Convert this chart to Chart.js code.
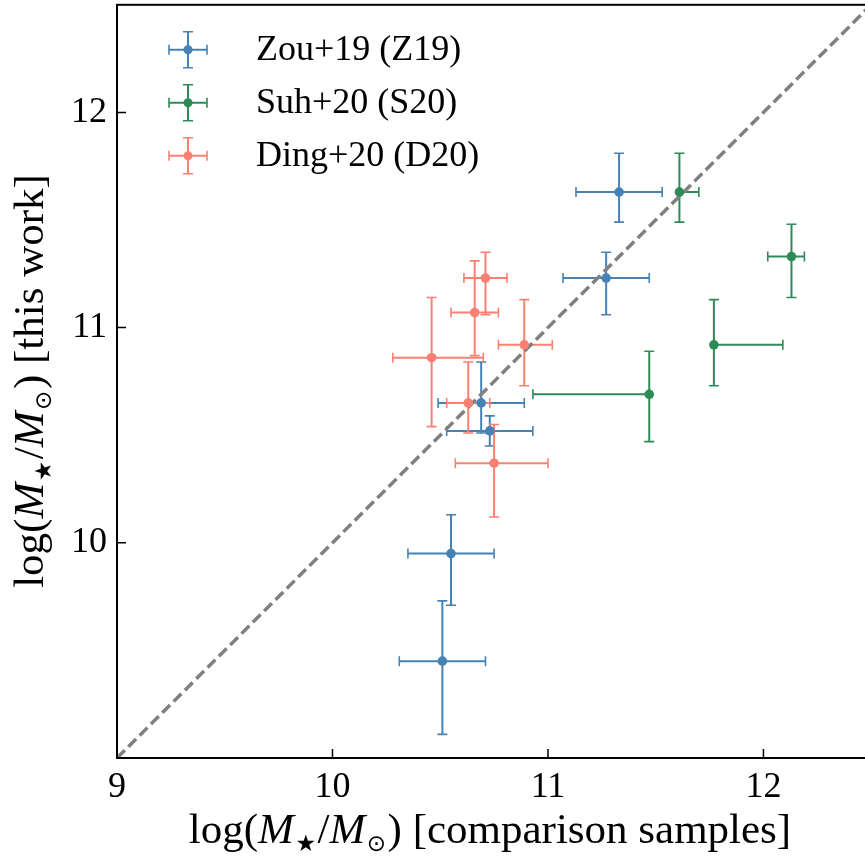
<!DOCTYPE html>
<html>
<head>
<meta charset="utf-8">
<script src="https://cdn.jsdelivr.net/npm/chart.js@4.4.1/dist/chart.umd.min.js"></script>
<style>
  body { margin: 0; background: #fff; }
  #wrap { width: 865px; height: 860px; overflow: hidden; }
</style>
</head>
<body>
<div id="wrap"><canvas id="c" width="876" height="860"></canvas></div>
<script>
// tick labels
const xTicks = [9, 10, 11, 12];
const yTicks = [10, 11, 12];

// Zou+19 (Z19)
const z19X = [10.55, 10.51, 11.33, 11.27, 10.69, 10.73];
const z19XLo = [0.20, 0.20, 0.20, 0.20, 0.20, 0.20];
const z19XHi = [0.20, 0.20, 0.20, 0.20, 0.20, 0.20];
const z19Y = [9.95, 9.45, 11.63, 11.23, 10.65, 10.52];
const z19YLo = [0.24, 0.34, 0.14, 0.17, 0.14, 0.07];
const z19YHi = [0.18, 0.28, 0.18, 0.12, 0.19, 0.07];

// Suh+20 (S20)
const s20X = [11.61, 12.13, 11.77, 11.47];
const s20XLo = [0, 0.11, 0, 0.54];
const s20XHi = [0.09, 0.06, 0.32, 0];
const s20Y = [11.63, 11.33, 10.92, 10.69];
const s20YLo = [0.14, 0.19, 0.19, 0.22];
const s20YHi = [0.18, 0.15, 0.21, 0.20];

// Ding+20 (D20)
const d20X = [10.71, 10.66, 10.46, 10.89, 10.63, 10.75];
const d20XLo = [0.10, 0.11, 0.18, 0.12, 0.10, 0.18];
const d20XHi = [0.10, 0.11, 0.24, 0.13, 0.10, 0.25];
const d20Y = [11.23, 11.07, 10.86, 10.92, 10.65, 10.37];
const d20YLo = [0.17, 0.20, 0.32, 0.19, 0.14, 0.25];
const d20YHi = [0.12, 0.24, 0.28, 0.21, 0.19, 0.18];

// one-to-one line
const lineX = [9, 12.5];

const series = [
  { label: 'Zou+19 (Z19)', color: '#4682b4', x: z19X, xlo: z19XLo, xhi: z19XHi, y: z19Y, ylo: z19YLo, yhi: z19YHi },
  { label: 'Suh+20 (S20)', color: '#2e8b57', x: s20X, xlo: s20XLo, xhi: s20XHi, y: s20Y, ylo: s20YLo, yhi: s20YHi },
  { label: 'Ding+20 (D20)', color: '#fa8072', x: d20X, xlo: d20XLo, xhi: d20XHi, y: d20Y, ylo: d20YLo, yhi: d20YHi }
];

const serif = '"Liberation Serif", "Times New Roman", serif';

function drawErr(ctx, xs, ys, s, i, color) {
  let px = xs.getPixelForValue(s.x[i]);
  let py = ys.getPixelForValue(s.y[i]);
  let x0 = xs.getPixelForValue(s.x[i] - s.xlo[i]);
  let x1 = xs.getPixelForValue(s.x[i] + s.xhi[i]);
  let y0 = ys.getPixelForValue(s.y[i] - s.ylo[i]);
  let y1 = ys.getPixelForValue(s.y[i] + s.yhi[i]);
  ctx.strokeStyle = color;
  ctx.lineWidth = 2;
  ctx.beginPath();
  ctx.moveTo(x0, py); ctx.lineTo(x1, py);
  ctx.moveTo(px, y0); ctx.lineTo(px, y1);
  ctx.stroke();
  ctx.lineWidth = 1.6;
  ctx.beginPath();
  ctx.moveTo(x0, py - 5); ctx.lineTo(x0, py + 5);
  ctx.moveTo(x1, py - 5); ctx.lineTo(x1, py + 5);
  ctx.moveTo(px - 5, y0); ctx.lineTo(px + 5, y0);
  ctx.moveTo(px - 5, y1); ctx.lineTo(px + 5, y1);
  ctx.stroke();
}

// text made of pieces with different fonts (for M_star / M_sun)
function pieces(ctx, parts, cx, y) {
  let w = 0;
  parts.forEach(p => { ctx.font = p.f; p.w = ctx.measureText(p.t).width + (p.gap || 0); w += p.w; });
  let x = cx - w / 2;
  ctx.textAlign = 'left';
  ctx.textBaseline = 'alphabetic';
  parts.forEach(p => { ctx.font = p.f; ctx.fillText(p.t, x + (p.gap || 0) / 2, y + (p.dy || 0)); x += p.w; });
}

function massLabel(tail) {
  let rm = '43px ' + serif, it = 'italic 43px ' + serif, sub = '23px "DejaVu Sans"';
  return [
    { t: 'log(', f: rm },
    { t: 'M', f: it },
    { t: '\u2605', f: sub, dy: 8, gap: 3 },
    { t: '/', f: rm },
    { t: 'M', f: it },
    { t: '\u2299', f: sub, dy: 8, gap: 3 },
    { t: ')', f: rm },
    { t: ' ' + tail, f: rm }
  ];
}

const extras = {
  id: 'extras',
  beforeDatasetsDraw(chart) {
    let ctx = chart.ctx, a = chart.chartArea;
    ctx.save();
    ctx.beginPath();
    ctx.rect(a.left, a.top, a.right - a.left, a.bottom - a.top);
    ctx.clip();
    series.forEach(s => {
      for (let i = 0; i < s.x.length; i++) drawErr(ctx, chart.scales.x, chart.scales.y, s, i, s.color);
    });
    ctx.restore();
  },
  afterDraw(chart) {
    let ctx = chart.ctx, a = chart.chartArea;
    let xs = chart.scales.x, ys = chart.scales.y;
    ctx.save();
    // frame
    ctx.strokeStyle = '#000';
    ctx.lineWidth = 2;
    ctx.strokeRect(a.left, a.top, a.right - a.left, a.bottom - a.top);
    // inward ticks
    ctx.lineWidth = 1.5;
    ctx.beginPath();
    xTicks.forEach(v => { let p = xs.getPixelForValue(v); ctx.moveTo(p, a.bottom); ctx.lineTo(p, a.bottom - 9); });
    yTicks.forEach(v => { let p = ys.getPixelForValue(v); ctx.moveTo(a.left, p); ctx.lineTo(a.left + 9, p); });
    ctx.stroke();

    // legend
    series.forEach((s, k) => {
      let lx = a.left + 71, ly = a.top + 45 + k * 53;
      ctx.strokeStyle = s.color;
      ctx.lineWidth = 2;
      ctx.beginPath();
      ctx.moveTo(lx - 19, ly); ctx.lineTo(lx + 19, ly);
      ctx.moveTo(lx, ly - 18); ctx.lineTo(lx, ly + 18);
      ctx.stroke();
      ctx.lineWidth = 1.6;
      ctx.beginPath();
      ctx.moveTo(lx - 19, ly - 5); ctx.lineTo(lx - 19, ly + 5);
      ctx.moveTo(lx + 19, ly - 5); ctx.lineTo(lx + 19, ly + 5);
      ctx.moveTo(lx - 5, ly - 18); ctx.lineTo(lx + 5, ly - 18);
      ctx.moveTo(lx - 5, ly + 18); ctx.lineTo(lx + 5, ly + 18);
      ctx.stroke();
      ctx.fillStyle = s.color;
      ctx.beginPath();
      ctx.arc(lx, ly, 4.5, 0, Math.PI * 2);
      ctx.fill();
      ctx.fillStyle = '#000';
      ctx.font = '36px ' + serif;
      ctx.textAlign = 'left';
      ctx.textBaseline = 'middle';
      ctx.fillText(s.label, lx + 68, ly + 1);
    });

    // axis titles
    ctx.fillStyle = '#000';
    pieces(ctx, massLabel('[comparison samples]'), 490, 843);
    ctx.translate(43, 381);
    ctx.rotate(-Math.PI / 2);
    pieces(ctx, massLabel('[this work]'), 0, 0);
    ctx.restore();
  }
};

const datasets = series.map((s, k) => ({
  type: 'scatter',
  label: s.label,
  data: s.x.map((v, i) => ({ x: v, y: s.y[i] })),
  backgroundColor: s.color,
  borderWidth: 0,
  pointRadius: 4.8,
  pointHoverRadius: 4.8,
  order: 1
}));
datasets.push({
  type: 'line',
  label: 'one-to-one',
  data: lineX.map(v => ({ x: v, y: v })),
  borderColor: '#808080',
  borderWidth: 3.5,
  borderDash: [11, 5],
  pointRadius: 0,
  order: 5
});

new Chart(document.getElementById('c'), {
  data: { datasets: datasets },
  plugins: [extras],
  options: {
    responsive: false,
    animation: false,
    devicePixelRatio: 1,
    layout: { padding: { top: 1, right: 3, left: 0, bottom: 0 } },
    plugins: { legend: { display: false }, tooltip: { enabled: false } },
    scales: {
      x: {
        type: 'linear',
        min: 9, max: 12.5,
        afterBuildTicks: sc => { sc.ticks = xTicks.map(v => ({ value: v })); },
        afterFit: sc => { sc.height = 102; sc.paddingLeft = 0; sc.paddingRight = 0; },
        grid: { display: false, drawTicks: false },
        border: { display: false },
        ticks: { color: '#000', font: { family: serif, size: 36 }, padding: 8, maxRotation: 0 }
      },
      y: {
        type: 'linear',
        min: 9, max: 12.5,
        afterBuildTicks: sc => { sc.ticks = yTicks.map(v => ({ value: v })); },
        afterFit: sc => { sc.width = 117; sc.paddingTop = 0; sc.paddingBottom = 0; },
        grid: { display: false, drawTicks: false },
        border: { display: false },
        ticks: { color: '#000', font: { family: serif, size: 36 }, padding: 10 }
      }
    }
  }
});
</script>
</body>
</html>
